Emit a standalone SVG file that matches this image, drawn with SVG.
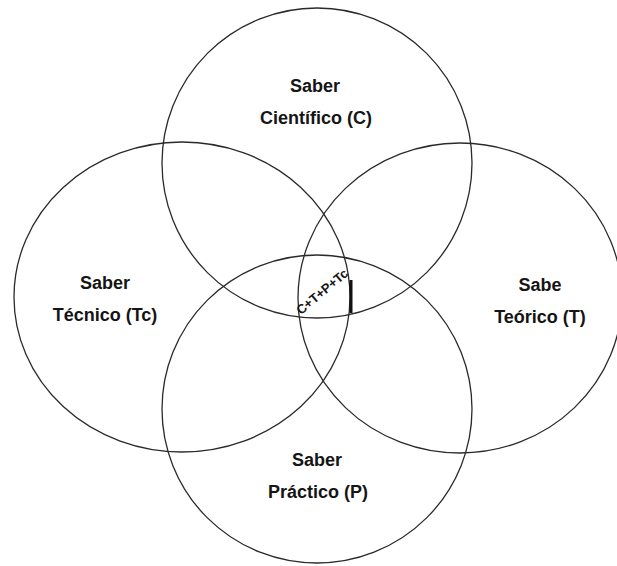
<svg xmlns="http://www.w3.org/2000/svg" width="617" height="566" viewBox="0 0 617 566">
<style>
.c{fill:none;stroke:#2a2a2a;stroke-width:1.3}
.t{font-family:"Liberation Sans",Arial,sans-serif;font-weight:bold;font-size:18px;fill:#151515;text-anchor:middle}
.s{font-family:"Liberation Sans",Arial,sans-serif;font-weight:bold;font-size:13px;fill:#151515;text-anchor:middle}
</style>
<rect width="617" height="566" fill="#ffffff"/>
<g id="circles">
<g id="cientifico"><ellipse class="c" cx="317" cy="163" rx="155" ry="155"/></g>
<g id="tecnico"><ellipse class="c" cx="182" cy="297" rx="168" ry="155"/></g>
<g id="teorico"><ellipse class="c" cx="460" cy="298" rx="162" ry="155"/></g>
<g id="practico"><ellipse class="c" cx="317" cy="409" rx="155" ry="154"/></g>
</g>
<g id="connectors">
<line x1="351" y1="280" x2="351" y2="313" stroke="#111" stroke-width="3"/>
</g>
<g id="labels">
<g id="label-c"><text class="t" x="315" y="92">Saber</text><text class="t" x="316" y="124">Científico (C)</text></g>
<g id="label-tc"><text class="t" x="105" y="289">Saber</text><text class="t" x="105" y="321">Técnico (Tc)</text></g>
<g id="label-t"><text class="t" x="540" y="291">Sabe</text><text class="t" x="540" y="323">Teórico (T)</text></g>
<g id="label-p"><text class="t" x="317" y="466">Saber</text><text class="t" x="318" y="498">Práctico (P)</text></g>
<g id="label-center"><text class="s" x="0" y="0" transform="translate(325,295) rotate(-40)">C+T+P+Tc</text></g>
</g>
</svg>
